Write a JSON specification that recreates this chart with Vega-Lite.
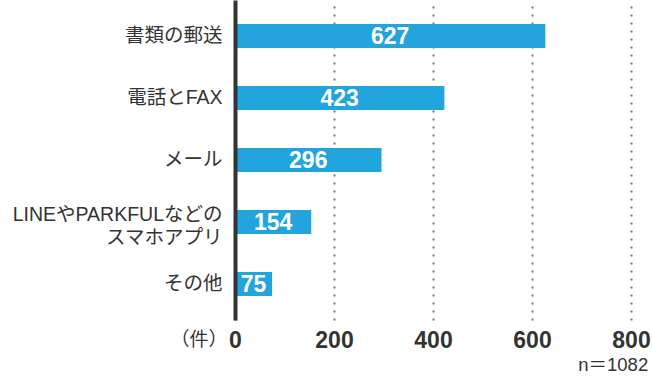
{
  "$schema": "https://vega.github.io/schema/vega-lite/v6.json",
  "width": 396,
  "height": 320,
  "autosize": {"type": "none"},
  "padding": {"left": 235, "top": 0, "right": 21, "bottom": 58},
  "background": "white",
  "title": {
    "text": "n＝1082",
    "orient": "bottom",
    "anchor": "end",
    "dx": -2,
    "offset": 4,
    "font": "Liberation Sans, Noto Sans CJK JP",
    "fontSize": 18.5,
    "fontWeight": "normal",
    "color": "#333333"
  },
  "config": {
    "view": {"stroke": null},
    "font": "Liberation Sans, Noto Sans CJK JP"
  },
  "data": {
    "values": [
      {"category": "書類の郵送", "count": 627},
      {"category": "電話とFAX", "count": 423},
      {"category": "メール", "count": 296},
      {"category": "LINEやPARKFULなどの|スマホアプリ", "count": 154},
      {"category": "その他", "count": 75}
    ]
  },
  "encoding": {
    "y": {
      "field": "category",
      "type": "nominal",
      "sort": null,
      "scale": {"paddingInner": 0.613, "paddingOuter": 0.387},
      "axis": {
        "title": null,
        "ticks": false,
        "domain": true,
        "domainColor": "#333333",
        "domainWidth": 4,
        "zindex": 2,
        "labelFont": "Liberation Sans, Noto Sans CJK JP",
        "labelFontSize": 19.5,
        "labelColor": "#333333",
        "labelPadding": 13,
        "labelLimit": 400,
        "labelLineHeight": 23,
        "labelOffset": {"condition": {"test": "indexof(datum.value, 'LINE') >= 0", "value": -7}, "value": 0},
        "labelExpr": "split(datum.label, '|')"
      }
    }
  },
  "layer": [
    {
      "mark": {"type": "bar", "color": "#21a5dc"},
      "encoding": {
        "x": {
          "field": "count",
          "type": "quantitative",
          "scale": {"domain": [0, 800], "nice": false},
          "axis": {
            "values": [0, 200, 400, 600, 800],
            "title": "（件）",
            "titleFont": "Liberation Sans, Noto Sans CJK JP",
            "titleFontSize": 19,
            "titleFontWeight": "normal",
            "titleColor": "#333333",
            "titleAnchor": "start",
            "titleAlign": "right",
            "titleBaseline": "middle",
            "titleX": -8,
            "titleY": 19,
            "domain": false,
            "ticks": false,
            "grid": true,
            "gridColor": "#777777",
            "gridDash": [2, 6],
            "gridWidth": 2,
            "labelFont": "Liberation Sans, Noto Sans CJK JP",
            "labelFontSize": 23,
            "labelFontWeight": "bold",
            "labelColor": "#333333",
            "labelPadding": 9,
            "labelFlush": false
          }
        }
      }
    },
    {
      "transform": [{"calculate": "datum.count / 2", "as": "mid"}],
      "mark": {
        "type": "text",
        "color": "white",
        "font": "Liberation Sans, Noto Sans CJK JP",
        "fontSize": 23,
        "fontWeight": "bold",
        "align": "center",
        "baseline": "middle",
        "dy": 1
      },
      "encoding": {
        "x": {"field": "mid", "type": "quantitative"},
        "text": {"field": "count", "type": "quantitative"}
      }
    }
  ]
}
